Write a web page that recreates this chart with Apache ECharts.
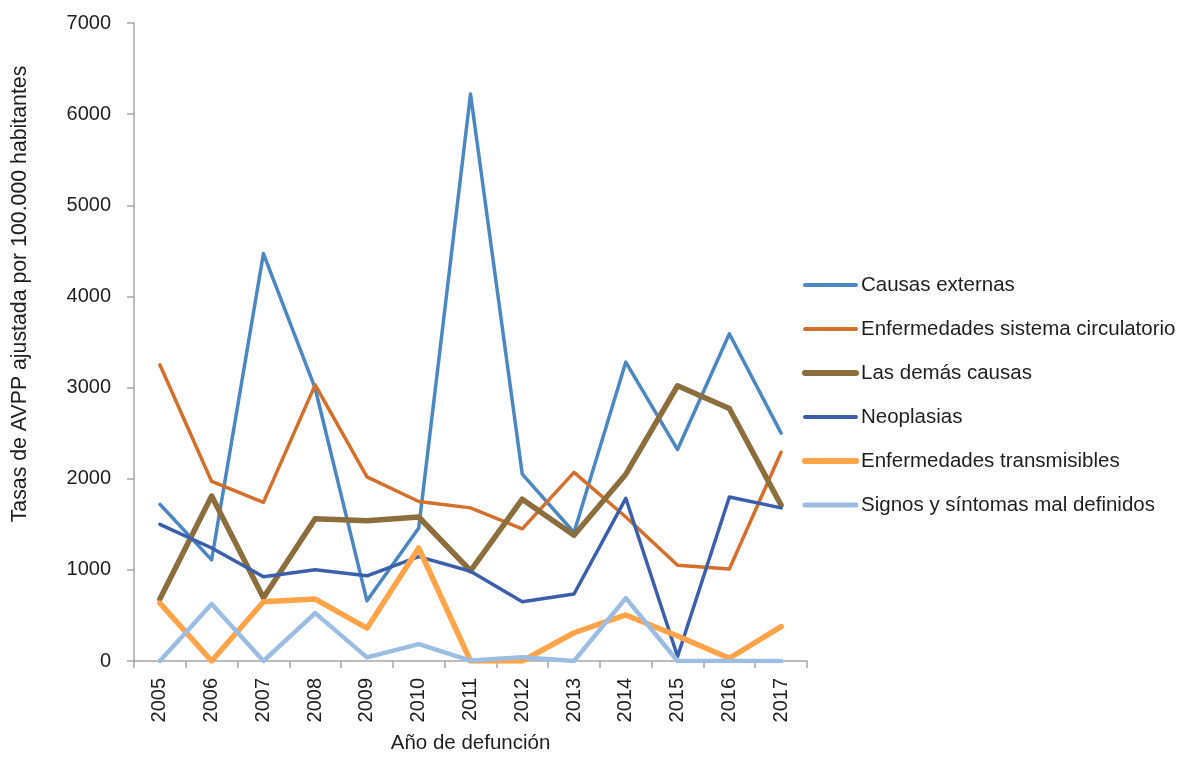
<!DOCTYPE html>
<html>
<head>
<meta charset="utf-8">
<script src="https://cdn.jsdelivr.net/npm/echarts@6/dist/echarts.min.js"></script>
<style>
html,body{margin:0;padding:0;background:#fff;}
#chart{width:1183px;height:757px;}
</style>
</head>
<body>
<div id="chart"></div>
<script>
const years = ['2005','2006','2007','2008','2009','2010','2011','2012','2013','2014','2015','2016','2017'];
const causasExternas = [1720, 1110, 4470, 2990, 660, 1460, 6220, 2050, 1410, 3280, 2320, 3590, 2500];
const circulatorio   = [3250, 1970, 1740, 3030, 2020, 1750, 1680, 1450, 2070, 1580, 1050, 1010, 2290];
const demasCausas    = [680, 1810, 695, 1560, 1540, 1580, 990, 1775, 1380, 2050, 3020, 2770, 1710];
const neoplasias     = [1500, 1240, 925, 1000, 935, 1145, 985, 650, 735, 1785, 50, 1800, 1680];
const transmisibles  = [635, 0, 650, 680, 360, 1240, 0, 0, 310, 505, 275, 30, 378];
const signos         = [0, 625, 0, 525, 40, 185, 5, 40, 0, 690, 0, 0, 0];
const yTicks = [0, 1000, 2000, 3000, 4000, 5000, 6000, 7000];

const seriesNames = ['Causas externas','Enfermedades sistema circulatorio','Las demás causas','Neoplasias','Enfermedades transmisibles','Signos y síntomas mal definidos'];
const seriesData = [causasExternas, circulatorio, demasCausas, neoplasias, transmisibles, signos];
const seriesColors = ['#4b88c1','#d2702c','#8c6e3c','#3b5fab','#ffa448','#9cbde2'];
const seriesWidths = [3.5, 3.5, 5.5, 3.5, 5.5, 4.5];

const FONT = "'Liberation Sans',Arial,sans-serif";
const txt = '#1e1e1e';

const chart = echarts.init(document.getElementById('chart'), null, {renderer:'canvas'});
chart.setOption({
  animation: false,
  backgroundColor: '#ffffff',
  grid: {left: 134, right: 376, top: 23, bottom: 96, containLabel: false, outerBoundsMode: 'none'},
  legend: {
    orient: 'vertical',
    left: 802,
    top: 272,
    padding: 0,
    itemWidth: 51,
    itemHeight: 14,
    itemGap: 18,
    itemStyle: {opacity: 0},
    textStyle: {fontFamily: FONT, fontSize: 20.5, color: txt, lineHeight: 26},
    data: seriesNames.map(function(n, i){
      return {name: n, itemStyle: {opacity: 0}, lineStyle: {width: seriesWidths[i] + 0.5, color: seriesColors[i], cap: 'round'}};
    })
  },
  xAxis: {
    type: 'category',
    data: years,
    boundaryGap: true,
    name: 'Año de defunción',
    nameLocation: 'middle',
    nameGap: 72,
    nameTextStyle: {fontFamily: FONT, fontSize: 20.5, color: txt},
    axisLine: {show: true, lineStyle: {color: '#a6a6a6', width: 1.5}},
    axisTick: {show: true, inside: false, length: 7, alignWithLabel: false, lineStyle: {color: '#a6a6a6', width: 1.5}},
    axisLabel: {rotate: 90, margin: 17, fontFamily: FONT, fontSize: 20, color: txt, interval: 0},
    splitLine: {show: false}
  },
  yAxis: {
    type: 'value',
    min: 0,
    max: 7000,
    interval: 1000,
    axisLine: {show: true, lineStyle: {color: '#a6a6a6', width: 1.5}},
    axisTick: {show: true, inside: false, length: 7, lineStyle: {color: '#a6a6a6', width: 1.5}},
    axisLabel: {margin: 23, fontFamily: FONT, fontSize: 20, color: txt,
      formatter: function(v){ return yTicks.indexOf(v) >= 0 ? String(v) : ''; }},
    splitLine: {show: false}
  },
  graphic: [{
    type: 'text',
    x: 20,
    y: 294,
    rotation: Math.PI / 2,
    style: {
      text: 'Tasas de AVPP ajustada por 100.000 habitantes',
      x: 0, y: 0,
      align: 'center',
      verticalAlign: 'middle',
      fontFamily: FONT,
      fontSize: 21.3,
      fill: txt
    }
  }],
  series: seriesNames.map(function(n, i){
    return {
      name: n,
      type: 'line',
      data: seriesData[i],
      symbol: 'none',
      showSymbol: false,
      smooth: false,
      color: seriesColors[i],
      lineStyle: {color: seriesColors[i], width: seriesWidths[i], cap: 'round', join: 'round'},
      itemStyle: {color: seriesColors[i]}
    };
  })
});
</script>
</body>
</html>
